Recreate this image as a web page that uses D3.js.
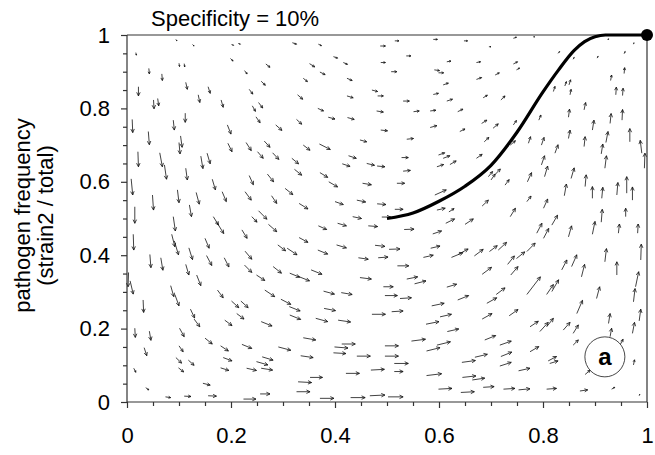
<!DOCTYPE html>
<html>
<head>
<meta charset="utf-8">
<script src="https://cdn.jsdelivr.net/npm/d3@7"></script>
<style>
  body { margin: 0; background: #fff; }
  text { font-family: "Liberation Sans", Arial, Helvetica, sans-serif; }
</style>
</head>
<body>
<div id="chart"></div>
<script>
// Variables
var width = 655,
	height = 455;

var titleText = "Specificity = 10%";
var yLabelLines = ["pathogen frequency", "(strain2 / total)"];
var panelLetter = "a";

var majorTicks = [0, 0.2, 0.4, 0.6, 0.8, 1];
var tickLabels = ["0", "0.2", "0.4", "0.6", "0.8", "1"];
var minorTicks = [0.05, 0.1, 0.15, 0.25, 0.3, 0.35, 0.45, 0.5, 0.55, 0.65, 0.7, 0.75, 0.85, 0.9, 0.95];

// trajectory (x, y)
var trajX = [0.5, 0.55, 0.6, 0.65, 0.7, 0.75, 0.8, 0.83, 0.86, 0.88, 0.9, 0.92, 0.95, 1.0];
var trajY = [0.5, 0.515, 0.547, 0.588, 0.645, 0.735, 0.845, 0.905, 0.958, 0.982, 0.995, 1.0, 1.0, 1.0];
var endPoint = [1, 1];
var letterPos = [0.919, 0.123];

// direction field: [x, y, dx, dy] (tail position and vector, data units)
var arrows = [
	// upper left
	[0.094,0.988,0.002,-0.004],[0.126,0.974,0.003,-0.004],[0.201,0.974,0.004,-0.002],[0.214,0.977,0.004,-0.002],
	[0.017,0.952,0.001,-0.007],[0.199,0.936,0.005,-0.007],[0.100,0.923,0.001,-0.009],[0.110,0.922,0.001,-0.009],
	[0.042,0.909,0.001,-0.015],[0.226,0.903,0.005,-0.009],[0.067,0.894,0.001,-0.018],[0.022,0.859,0,-0.025],
	[0.113,0.871,0.003,-0.019],[0.156,0.859,0.004,-0.018],[0.235,0.852,0.007,-0.013],[0.137,0.837,0.003,-0.021],
	[0.181,0.823,0.004,-0.020],[0.051,0.823,0.001,-0.024],[0.059,0.827,0.002,-0.020],[0.241,0.807,0.006,-0.015],
	[0.010,0.770,0.001,-0.036],[0.089,0.768,0.002,-0.027],[0.112,0.787,0,-0.025],[0.248,0.777,0.008,-0.016],
	[0.041,0.737,0.002,-0.036],[0.103,0.725,0.003,-0.031],[0.100,0.707,0.002,-0.031],[0.193,0.755,0.007,-0.025],
	[0.194,0.705,0.008,-0.023],[0.229,0.707,0.010,-0.022],[0.021,0.682,0.001,-0.041],[0.063,0.679,0.005,-0.038],
	[0.072,0.646,0.004,-0.039],[0.142,0.670,0.004,-0.034],[0.154,0.678,0.006,-0.029],[0.113,0.637,0.003,-0.032],
	[0.164,0.607,0.006,-0.029],[0.235,0.617,0.008,-0.025],[0.008,0.608,0.003,-0.044],[0.097,0.578,0.003,-0.035],
	[0.133,0.571,0.006,-0.032],[0.183,0.573,0.008,-0.027],[0.227,0.573,0.012,-0.023],[0.049,0.564,0.002,-0.041],
	[0.120,0.537,0.004,-0.032],[0.015,0.532,0,-0.045],
	// lower left
	[0.089,0.505,0.004,-0.039],[0.166,0.505,0.010,-0.023],[0.172,0.491,0.014,-0.032],[0.240,0.505,0.010,-0.015],
	[0.012,0.457,0.001,-0.043],[0.086,0.457,0.006,-0.034],[0.091,0.439,0.008,-0.038],[0.150,0.446,0.008,-0.027],
	[0.221,0.469,0.010,-0.023],[0.044,0.402,0.002,-0.036],[0.065,0.393,0.004,-0.034],[0.119,0.420,0.007,-0.032],
	[0.153,0.399,0.010,-0.027],[0.187,0.393,0.009,-0.025],[0.227,0.411,0.013,-0.022],[0.226,0.373,0.014,-0.020],
	[0.113,0.375,0.006,-0.029],[0.134,0.346,0.008,-0.029],[0.003,0.353,-0.001,-0.039],[0.006,0.330,0.006,-0.036],
	[0.084,0.317,0.006,-0.030],[0.092,0.293,0.008,-0.031],[0.174,0.305,0.011,-0.021],[0.201,0.275,0.014,-0.018],
	[0.219,0.275,0.014,-0.018],[0.211,0.241,0.014,-0.015],[0.031,0.278,0.001,-0.034],[0.122,0.253,0.008,-0.024],
	[0.129,0.226,0.011,-0.021],[0.188,0.223,0.014,-0.015],[0.015,0.201,0.001,-0.025],[0.043,0.193,0.003,-0.025],
	[0.101,0.201,0.009,-0.023],[0.150,0.174,0.014,-0.016],[0.180,0.153,0.015,-0.014],[0.221,0.157,0.019,-0.011],
	[0.033,0.148,0.005,-0.022],[0.100,0.153,0.008,-0.016],[0.094,0.121,0.011,-0.015],[0.118,0.114,0.011,-0.014],
	[0.099,0.093,0.010,-0.011],[0.185,0.121,0.017,-0.009],[0.180,0.093,0.016,-0.007],[0.230,0.092,0.019,-0.006],
	[0.013,0.092,0.004,-0.011],[0.036,0.039,0.006,-0.006],[0.146,0.051,0.014,-0.005],[0.074,0.014,0.010,-0.002],
	[0.110,0.016,0.013,-0.001],[0.156,0.017,0.016,-0.001],[0.224,0.008,0.024,0],
	// upper middle-left
	[0.318,0.979,0.008,-0.004],[0.368,0.975,0.006,-0.004],[0.487,0.970,0.010,0],[0.397,0.941,0.008,-0.004],
	[0.416,0.925,0.008,-0.005],[0.488,0.925,0.009,0],[0.267,0.921,0.008,-0.009],[0.351,0.922,0.010,-0.009],
	[0.371,0.899,0.010,-0.007],[0.339,0.882,0.008,-0.009],[0.423,0.882,0.010,-0.006],[0.258,0.874,0.008,-0.011],
	[0.471,0.850,0.011,-0.004],[0.482,0.834,0.011,0],[0.328,0.837,0.010,-0.012],[0.423,0.834,0.012,-0.005],
	[0.253,0.816,0.008,-0.015],[0.367,0.800,0.011,-0.007],[0.387,0.776,0.013,-0.005],[0.424,0.775,0.013,-0.005],
	[0.480,0.793,0.013,-0.003],[0.286,0.755,0.012,-0.015],[0.326,0.770,0.010,-0.013],[0.488,0.741,0.013,-0.002],
	[0.448,0.714,0.013,-0.005],[0.264,0.711,0.011,-0.017],[0.339,0.700,0.013,-0.014],[0.370,0.703,0.021,-0.015],
	[0.251,0.682,0.011,-0.018],[0.280,0.679,0.012,-0.018],[0.426,0.671,0.015,-0.007],[0.317,0.664,0.013,-0.015],
	[0.414,0.649,0.015,-0.007],[0.461,0.650,0.015,-0.005],[0.481,0.643,0.015,-0.002],[0.270,0.621,0.012,-0.021],
	[0.322,0.634,0.014,-0.016],[0.371,0.625,0.015,-0.013],[0.388,0.600,0.017,-0.014],[0.453,0.596,0.017,-0.004],
	[0.304,0.582,0.015,-0.017],[0.278,0.562,0.010,-0.021],[0.331,0.541,0.017,-0.015],[0.400,0.546,0.016,-0.008],
	[0.442,0.550,0.017,-0.005],[0.481,0.540,0.017,-0.002],[0.253,0.521,0.016,-0.023],[0.434,0.505,0.017,-0.005],
	[0.490,0.504,0.017,0],
	// lower middle-left
	[0.272,0.484,0.016,-0.020],[0.368,0.480,0.016,-0.010],[0.405,0.487,0.017,-0.007],[0.464,0.480,0.018,-0.002],
	[0.331,0.448,0.017,-0.013],[0.290,0.428,0.015,-0.016],[0.308,0.419,0.019,-0.018],[0.367,0.414,0.019,-0.011],
	[0.403,0.428,0.019,-0.008],[0.477,0.427,0.019,-0.003],[0.445,0.393,0.019,-0.004],[0.483,0.393,0.019,0.002],
	[0.281,0.369,0.016,-0.018],[0.249,0.346,0.016,-0.015],[0.313,0.351,0.019,-0.011],[0.328,0.343,0.023,-0.013],
	[0.354,0.360,0.021,-0.012],[0.448,0.339,0.022,-0.004],[0.493,0.314,0.019,0],[0.265,0.305,0.019,-0.018],
	[0.378,0.302,0.021,-0.008],[0.412,0.298,0.021,-0.005],[0.496,0.290,0.024,0],[0.296,0.280,0.019,-0.014],
	[0.312,0.260,0.021,-0.012],[0.379,0.255,0.022,-0.006],[0.313,0.237,0.021,-0.012],[0.363,0.228,0.023,-0.009],
	[0.406,0.223,0.024,-0.005],[0.471,0.239,0.026,0],[0.258,0.219,0.021,-0.012],[0.339,0.175,0.024,-0.006],
	[0.413,0.158,0.026,0],[0.399,0.150,0.026,-0.003],[0.397,0.134,0.024,-0.002],[0.291,0.150,0.024,-0.009],
	[0.260,0.123,0.021,-0.009],[0.249,0.110,0.022,-0.009],[0.258,0.092,0.022,-0.005],[0.334,0.126,0.024,-0.005],
	[0.442,0.125,0.026,0],[0.496,0.153,0.026,0],[0.496,0.125,0.026,0],[0.352,0.067,0.024,0],
	[0.329,0.055,0.026,-0.002],[0.421,0.078,0.026,0],[0.469,0.087,0.026,0.002],[0.326,0.028,0.026,0],
	[0.256,0.022,0.019,0],[0.371,0.010,0.027,0],[0.430,0.012,0.028,0],[0.467,0.017,0.029,0.002],
	[0.502,0.014,0.029,0],
	// upper middle-right
	[0.515,0.984,0.008,0],[0.589,0.988,0.008,0],[0.648,0.984,0.007,0],[0.743,0.991,0.006,0.003],
	[0.696,0.968,0.004,0],[0.537,0.943,0.009,0],[0.615,0.927,0.008,0.002],[0.672,0.925,0.008,0.002],
	[0.743,0.921,0.008,0.006],[0.749,0.905,0.006,0.005],[0.508,0.900,0.011,0],[0.591,0.905,0.010,-0.002],
	[0.599,0.897,0.010,0],[0.672,0.879,0.010,0.005],[0.708,0.891,0.008,0.006],[0.608,0.864,0.010,0.005],
	[0.589,0.838,0.010,0.003],[0.685,0.829,0.008,0.007],[0.719,0.823,0.008,0.011],[0.531,0.820,0.012,0],
	[0.615,0.820,0.011,0.005],[0.551,0.791,0.011,0.002],[0.583,0.793,0.011,0.002],[0.636,0.791,0.010,0.007],
	[0.682,0.759,0.010,0.009],[0.704,0.746,0.010,0.012],[0.743,0.755,0.006,0.012],[0.583,0.748,0.013,0.005],
	[0.640,0.737,0.010,0.007],[0.538,0.716,0.013,0.002],[0.687,0.709,0.009,0.012],[0.737,0.700,0.010,0.012],
	[0.599,0.673,0.012,0.006],[0.608,0.664,0.013,0.007],[0.528,0.666,0.013,0],[0.672,0.664,0.011,0.011],
	[0.596,0.641,0.013,0.006],[0.621,0.647,0.012,0.010],[0.531,0.629,0.014,0.002],[0.695,0.614,0.008,0.014],
	[0.700,0.605,0.008,0.016],[0.708,0.620,0.010,0.015],[0.727,0.591,0.008,0.015],[0.519,0.596,0.015,0],
	[0.592,0.564,0.022,0.014],[0.683,0.534,0.012,0.016],[0.737,0.505,0.010,0.023],[0.515,0.525,0.016,0],
	[0.596,0.523,0.016,0.005],[0.619,0.518,0.010,0.009],
	// lower middle-right
	[0.613,0.487,0.017,0.012],[0.650,0.484,0.016,0.015],[0.533,0.470,0.019,0.001],[0.588,0.458,0.017,0.008],
	[0.504,0.416,0.021,0.001],[0.584,0.419,0.018,0.006],[0.624,0.394,0.022,0.013],[0.637,0.402,0.019,0.015],
	[0.668,0.398,0.017,0.018],[0.697,0.410,0.015,0.016],[0.714,0.414,0.016,0.021],[0.570,0.394,0.019,0.006],
	[0.732,0.375,0.013,0.023],[0.520,0.371,0.022,0],[0.683,0.348,0.018,0.019],[0.738,0.346,0.014,0.023],
	[0.538,0.335,0.021,0.006],[0.553,0.322,0.022,0.008],[0.615,0.313,0.019,0.008],[0.525,0.282,0.022,0.002],
	[0.636,0.278,0.021,0.012],[0.710,0.293,0.017,0.018],[0.692,0.269,0.019,0.015],[0.586,0.262,0.024,0.007],
	[0.509,0.246,0.022,0.002],[0.602,0.232,0.022,0.007],[0.683,0.226,0.019,0.015],[0.735,0.235,0.017,0.017],
	[0.575,0.212,0.025,0.007],[0.616,0.192,0.022,0.007],[0.547,0.166,0.027,0.005],[0.596,0.155,0.026,0.009],
	[0.576,0.139,0.026,0.009],[0.688,0.169,0.021,0.012],[0.717,0.155,0.022,0.011],[0.514,0.105,0.027,0],
	[0.514,0.083,0.017,0],[0.644,0.108,0.026,0.005],[0.669,0.122,0.024,0.008],[0.719,0.124,0.021,0.012],
	[0.717,0.098,0.022,0.010],[0.576,0.072,0.029,0.005],[0.645,0.067,0.026,0.004],[0.664,0.060,0.024,0.005],
	[0.599,0.035,0.026,0.002],[0.642,0.026,0.026,0.002],[0.685,0.040,0.021,0.002],[0.724,0.035,0.022,0.002],
	// upper right
	[0.781,0.995,0.003,0],[0.924,0.988,0.003,0.001],[0.974,0.975,0.001,0.004],[0.829,0.950,0.003,0.005],
	[0.904,0.937,0.002,0.005],[0.956,0.949,0.002,0.006],[0.858,0.934,0.002,0.005],[0.956,0.895,0.001,0.016],
	[0.930,0.876,0.002,0.015],[0.842,0.861,0.003,0.012],[0.850,0.864,0.003,0.014],[0.820,0.846,0.003,0.014],
	[0.852,0.837,0.002,0.015],[0.940,0.837,0.001,0.021],[0.953,0.835,0.001,0.020],[0.879,0.796,0.003,0.020],
	[0.849,0.776,0.002,0.022],[0.792,0.768,0.004,0.014],[0.929,0.759,0.002,0.027],[0.952,0.768,0.001,0.029],
	[0.895,0.741,0.003,0.027],[0.772,0.705,0.004,0.018],[0.797,0.700,0.005,0.021],[0.849,0.718,0.003,0.023],
	[0.921,0.707,0.004,0.030],[0.967,0.709,0,0.036],[0.879,0.696,0.002,0.027],[0.823,0.678,0.006,0.023],
	[0.912,0.676,0.003,0.027],[0.990,0.678,-0.003,0.035],[0.995,0.637,0.001,0.041],[0.797,0.646,0.006,0.025],
	[0.919,0.637,0.003,0.034],[0.803,0.614,0.006,0.029],[0.770,0.600,0.008,0.025],[0.854,0.609,0.006,0.029],
	[0.881,0.587,0.002,0.032],[0.895,0.555,0,0.032],[0.913,0.555,0.002,0.030],[0.942,0.564,0.002,0.034],
	[0.961,0.569,0,0.045],[0.972,0.550,0,0.036],[0.841,0.562,0.004,0.032],[0.769,0.546,0.008,0.015],
	[0.801,0.528,0.008,0.025],
	// lower right
	[0.817,0.482,0.011,0.027],[0.788,0.460,0.010,0.027],[0.801,0.446,0.010,0.027],[0.849,0.450,0.006,0.030],
	[0.895,0.457,0.005,0.035],[0.945,0.460,0.002,0.025],[0.982,0.460,0.001,0.025],[0.912,0.490,0.002,0.035],
	[0.959,0.505,0,0.023],[0.749,0.391,0.016,0.018],[0.769,0.410,0.016,0.023],[0.836,0.360,0.010,0.027],
	[0.855,0.369,0.010,0.032],[0.874,0.341,0.006,0.034],[0.919,0.382,0.003,0.036],[0.942,0.346,0,0.036],
	[0.988,0.387,0.001,0.043],[0.769,0.293,0.026,0.048],[0.807,0.293,0.013,0.027],[0.817,0.301,0.013,0.032],
	[0.865,0.241,0.011,0.036],[0.903,0.282,0.006,0.032],[0.978,0.314,0.006,0.041],[0.974,0.273,0.003,0.036],
	[0.775,0.205,0.016,0.015],[0.794,0.192,0.016,0.025],[0.807,0.205,0.013,0.023],[0.839,0.196,0.013,0.021],
	[0.858,0.187,0.010,0.023],[0.926,0.214,0.003,0.027],[0.972,0.187,0.004,0.030],[0.985,0.221,0.003,0.032],
	[0.929,0.178,0.003,0.023],[0.948,0.155,0.006,0.016],[0.858,0.155,0.010,0.014],[0.775,0.137,0.017,0.014],
	[0.810,0.112,0.016,0.012],[0.813,0.105,0.016,0.007],[0.881,0.075,0.010,0.012],[0.974,0.101,0.002,0.014],
	[0.753,0.085,0.022,0.007],[0.753,0.033,0.022,0.003],[0.807,0.035,0.019,0.002],[0.871,0.030,0.015,0.003],
	[0.932,0.035,0.006,0.005],[0.985,0.017,0.001,0.004]
];

var x = d3.scaleLinear().domain([0, 1]).range([127, 647]),
	y = d3.scaleLinear().domain([0, 1]).range([402, 35]);

var svg = d3.select("#chart").append("svg")
	.attr("width", width)
	.attr("height", height);

// arrows (drawn first so the curve sits on top)
function arrowPath(d) {
	var x0 = x(d[0]), y0 = y(d[1]),
		x1 = x(d[0] + d[2]), y1 = y(d[1] + d[3]);
	var len = Math.sqrt((x1 - x0) * (x1 - x0) + (y1 - y0) * (y1 - y0));
	var a = Math.atan2(y1 - y0, x1 - x0);
	var h = Math.min(4, len * 0.45), s = 0.45;
	return "M" + x0 + "," + y0 + "L" + x1 + "," + y1 +
		"M" + (x1 - h * Math.cos(a - s)) + "," + (y1 - h * Math.sin(a - s)) +
		"L" + x1 + "," + y1 +
		"L" + (x1 - h * Math.cos(a + s)) + "," + (y1 - h * Math.sin(a + s));
}

svg.append("g")
	.attr("class", "field")
  .selectAll("path")
	.data(arrows)
  .enter().append("path")
	.attr("d", arrowPath)
	.attr("fill", "none")
	.attr("stroke", "#111")
	.attr("stroke-width", 0.8);

// frame (top and right)
svg.append("path")
	.attr("d", "M" + x(0) + "," + y(1) + "H" + x(1) + "V" + y(0))
	.attr("fill", "none")
	.attr("stroke", "#333")
	.attr("stroke-width", 1.2);

// axes
var xAxis = svg.append("g")
	.attr("transform", "translate(0," + y(0) + ")")
	.call(d3.axisBottom(x).tickValues(majorTicks).tickSize(6).tickPadding(19.5)
		.tickFormat(function(d, i) { return tickLabels[i]; }));
svg.append("g")
	.attr("transform", "translate(0," + y(0) + ")")
	.call(d3.axisBottom(x).tickValues(minorTicks).tickSize(4).tickFormat(""))
	.select(".domain").remove();

var yAxis = svg.append("g")
	.attr("transform", "translate(" + x(0) + ",0)")
	.call(d3.axisLeft(y).tickValues(majorTicks).tickSize(6).tickPadding(11)
		.tickFormat(function(d, i) { return tickLabels[i]; }));
svg.append("g")
	.attr("transform", "translate(" + x(0) + ",0)")
	.call(d3.axisLeft(y).tickValues(minorTicks).tickSize(4).tickFormat(""))
	.select(".domain").remove();

svg.selectAll(".domain, .tick line")
	.attr("stroke", "#333")
	.attr("stroke-width", 1.2);
svg.selectAll(".tick text")
	.attr("font-family", "'Liberation Sans', Arial, sans-serif")
	.attr("font-size", 22)
	.attr("fill", "#000");
xAxis.select(".domain").attr("d", "M" + x(0) + ",0H" + x(1));
yAxis.select(".domain").attr("d", "M0," + y(0) + "V" + y(1));

// trajectory
var line = d3.line()
	.x(function(d) { return x(d[0]); })
	.y(function(d) { return y(d[1]); })
	.curve(d3.curveMonotoneX);

svg.append("path")
	.datum(trajX.map(function(v, i) { return [v, trajY[i]]; }))
	.attr("d", line)
	.attr("fill", "none")
	.attr("stroke", "#000")
	.attr("stroke-width", 3.2);

svg.append("circle")
	.attr("cx", x(endPoint[0]))
	.attr("cy", y(endPoint[1]))
	.attr("r", 6)
	.attr("fill", "#000");

// panel letter
svg.append("circle")
	.attr("cx", x(letterPos[0]))
	.attr("cy", y(letterPos[1]))
	.attr("r", 20)
	.attr("fill", "#fff")
	.attr("stroke", "#333")
	.attr("stroke-width", 0.9);
svg.append("text")
	.attr("x", x(letterPos[0]))
	.attr("y", y(letterPos[1]) + 8)
	.attr("text-anchor", "middle")
	.attr("font-size", 24)
	.attr("font-weight", "bold")
	.text(panelLetter);

// title
svg.append("text")
	.attr("x", 151)
	.attr("y", 26)
	.attr("font-size", 22)
	.text(titleText);

// y label, two lines
svg.append("g")
	.attr("transform", "translate(0," + (y(0.5) - 3) + ") rotate(-90)")
  .selectAll("text")
	.data(yLabelLines)
  .enter().append("text")
	.attr("x", 0)
	.attr("y", function(d, i) { return 30 + i * 23; })
	.attr("text-anchor", "middle")
	.attr("font-size", 22)
	.text(function(d) { return d; });
</script>
</body>
</html>
